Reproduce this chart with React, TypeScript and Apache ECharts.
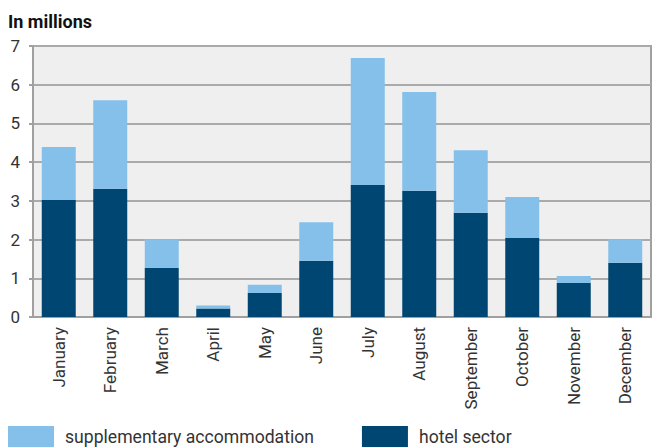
import React, { useEffect, useRef } from "react";
import * as echarts from "echarts";

const months = ["January", "February", "March", "April", "May", "June", "July", "August", "September", "October", "November", "December"];
const hotelSector = [3.02, 3.31, 1.27, 0.22, 0.62, 1.45, 3.41, 3.26, 2.69, 2.04, 0.88, 1.40];
const totals = [4.39, 5.6, 2.0, 0.3, 0.83, 2.45, 6.69, 5.81, 4.31, 3.1, 1.06, 2.0];
const supplementary = totals.map((t, i) => +(t - hotelSector[i]).toFixed(2));
const yTicks = [0, 1, 2, 3, 4, 5, 6, 7];

export default function App() {
  const ref = useRef<HTMLDivElement>(null);
  useEffect(() => {
    const chart = echarts.init(ref.current!, null, { renderer: "svg" });
    chart.setOption({
      animation: false,
      textStyle: { fontFamily: "Roboto" },
      title: {
        text: "In millions",
        left: 3,
        top: 12,
        padding: 0,
        textStyle: { fontSize: 18, fontWeight: "bold", color: "#111", fontFamily: "Roboto" },
      },
      legend: {
        left: 3,
        bottom: 1,
        padding: 0,
        itemWidth: 46,
        itemHeight: 21,
        itemGap: 48,
        icon: "rect",
        textStyle: { fontSize: 17.6, color: "#333", padding: [0, 0, 0, 6] },
        data: ["supplementary accommodation", "hotel sector"],
      },
      grid: {
        left: 28,
        right: 1,
        top: 46,
        bottom: 131,
        show: true,
        backgroundColor: "#efefef",
        borderColor: "#a0a0a0",
        borderWidth: 2,
      },
      xAxis: {
        type: "category",
        data: months,
        axisLine: { lineStyle: { color: "#a0a0a0", width: 2 } },
        axisTick: { show: false },
        axisLabel: { rotate: 90, fontSize: 17, color: "#333", margin: 10 },
      },
      yAxis: {
        type: "value",
        min: yTicks[0],
        max: yTicks[yTicks.length - 1],
        interval: 1,
        axisLine: { show: true, lineStyle: { color: "#a0a0a0", width: 2 } },
        axisTick: { show: true, length: 4, lineStyle: { color: "#a0a0a0", width: 2 } },
        axisLabel: { fontSize: 17, color: "#333", margin: 13, align: "right" },
        splitLine: { lineStyle: { color: "#aaaaaa", width: 2 } },
      },
      series: [
        {
          name: "hotel sector",
          type: "bar",
          stack: "total",
          data: hotelSector,
          barWidth: "66%",
          itemStyle: { color: "#004672" },
        },
        {
          name: "supplementary accommodation",
          type: "bar",
          stack: "total",
          data: supplementary,
          itemStyle: { color: "#85c0eb" },
        },
      ],
    });
    return () => chart.dispose();
  }, []);
  return <div ref={ref} style={{ position: "absolute", left: 5, top: 0, width: 647, height: 448 }} />;
}
